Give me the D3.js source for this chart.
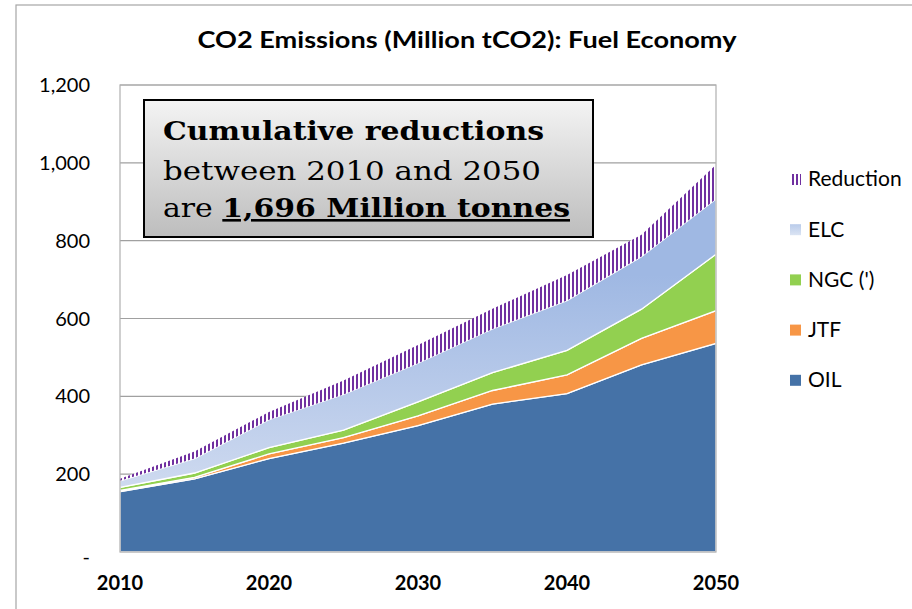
<!DOCTYPE html>
<html>
<head>
<meta charset="utf-8">
<script src="https://cdn.jsdelivr.net/npm/d3@7"></script>
<style>
  body { margin: 0; background: #fff; }
  svg { display: block; }
</style>
</head>
<body>
<svg></svg>
<script>
// values (Million tCO2, stacked)
const years = [2010, 2015, 2020, 2025, 2030, 2035, 2040, 2045, 2050];
const oil = [155, 188, 240, 280, 325, 380, 407, 481, 536];
const jtf = [3, 4, 12, 14, 25, 35, 48, 68, 84];
const ngc = [8, 11, 16, 19, 36, 46, 63, 75, 145];
const elc = [17, 37, 72, 92, 99, 112, 128, 135, 142];
const reduction = [5, 18, 20, 36, 47, 52, 66, 56, 88];

const seriesKeys = ["OIL", "JTF", "NGC", "ELC", "Reduction"];
const legendLabels = ["Reduction", "ELC", "NGC (')", "JTF", "OIL"];
const yTicks = [0, 200, 400, 600, 800, 1000, 1200];
const xTicks = [2010, 2020, 2030, 2040, 2050];

function drawChart() {
    let W = 912, H = 609;
    let margin = {top: 85, right: 196, bottom: 57, left: 120};
    let width = W - margin.left - margin.right;
    let height = H - margin.top - margin.bottom;

    let root = d3.select("svg")
        .attr("width", W)
        .attr("height", H);

    let defs = root.append("defs");

    // vertical purple hatch for the reduction wedge
    let pat = defs.append("pattern")
        .attr("id", "hatch")
        .attr("patternUnits", "userSpaceOnUse")
        .attr("width", 4)
        .attr("height", 8);
    pat.append("rect").attr("width", 4).attr("height", 8).attr("fill", "#fff");
    pat.append("rect").attr("width", 2).attr("height", 8).attr("fill", "#7030a0");

    let elcGrad = defs.append("linearGradient")
        .attr("id", "elcGrad")
        .attr("gradientUnits", "userSpaceOnUse")
        .attr("x1", 0).attr("x2", 0)
        .attr("y1", 190).attr("y2", 480);
    elcGrad.append("stop").attr("offset", "0%").attr("stop-color", "#9fb8e3");
    elcGrad.append("stop").attr("offset", "100%").attr("stop-color", "#dfe6f4");

    let legGrad = defs.append("linearGradient")
        .attr("id", "legGrad")
        .attr("x1", 0).attr("x2", 0).attr("y1", 0).attr("y2", 1);
    legGrad.append("stop").attr("offset", "0%").attr("stop-color", "#b9cbea");
    legGrad.append("stop").attr("offset", "100%").attr("stop-color", "#dbe4f3");

    let boxGrad = defs.append("linearGradient")
        .attr("id", "boxGrad")
        .attr("x1", 0).attr("x2", 0).attr("y1", 0).attr("y2", 1);
    boxGrad.append("stop").attr("offset", "0%").attr("stop-color", "#f4f4f4");
    boxGrad.append("stop").attr("offset", "100%").attr("stop-color", "#bdbdbd");

    // outer chart frame
    root.append("rect")
        .attr("x", 16)
        .attr("y", 5)
        .attr("width", W)
        .attr("height", H)
        .attr("fill", "none")
        .attr("stroke", "#a6a6a6")
        .attr("stroke-width", 1.2);

    root.append("text")
        .attr("x", 467)
        .attr("y", 48)
        .attr("text-anchor", "middle")
        .attr("font-family", "Lato, sans-serif")
        .attr("font-weight", "bold")
        .attr("font-size", "22px")
        .attr("textLength", 539)
        .attr("lengthAdjust", "spacingAndGlyphs")
        .attr("fill", "#000")
        .text("CO2 Emissions (Million tCO2): Fuel Economy");

    let svg = root.append("g")
        .attr("transform", "translate(" + margin.left + "," + margin.top + ")");

    let x = d3.scaleLinear().domain([2010, 2050]).range([0, width]);
    let y = d3.scaleLinear().domain([0, 1200]).range([height, 0]);

    // gridlines
    svg.append("g").selectAll("line")
        .data(yTicks)
        .join("line")
        .attr("x1", 0)
        .attr("x2", width)
        .attr("y1", d => y(d))
        .attr("y2", d => y(d))
        .attr("stroke", "#a0a0a0")
        .attr("stroke-width", 1.2);

    let table = years.map((yr, i) => ({
        year: yr, OIL: oil[i], JTF: jtf[i], NGC: ngc[i], ELC: elc[i], Reduction: reduction[i]
    }));
    let stacked = d3.stack().keys(seriesKeys)(table);

    let fills = {OIL: "#4572a7", JTF: "#f79646", NGC: "#92d050", ELC: "url(#elcGrad)", Reduction: "url(#hatch)"};

    let area = d3.area()
        .x(d => x(d.data.year))
        .y0(d => y(d[0]))
        .y1(d => y(d[1]));

    svg.append("g").selectAll("path")
        .data(stacked)
        .join("path")
        .attr("d", area)
        .attr("fill", d => fills[d.key])
        .attr("stroke", d => d.key == "Reduction" ? "none" : "#fff")
        .attr("stroke-width", 1.3);

    // plot frame
    svg.append("rect")
        .attr("x", 0)
        .attr("y", 0)
        .attr("width", width)
        .attr("height", height)
        .attr("fill", "none")
        .attr("stroke", "#b0b0b0")
        .attr("stroke-width", 1.2);

    // y labels
    svg.append("g").selectAll("text")
        .data(yTicks)
        .join("text")
        .attr("x", -30)
        .attr("y", d => y(d))
        .attr("dy", d => d == 0 ? "0.6em" : "0.35em")
        .attr("text-anchor", "end")
        .attr("font-family", "Lato, sans-serif")
        .attr("font-size", "20px")
        .attr("fill", "#000")
        .text(d => d == 0 ? "-" : d3.format(",")(d));

    // x labels
    svg.append("g").selectAll("text")
        .data(xTicks)
        .join("text")
        .attr("x", d => x(d))
        .attr("y", height + 38)
        .attr("text-anchor", "middle")
        .attr("font-family", "Lato, sans-serif")
        .attr("font-weight", "bold")
        .attr("font-size", "20px")
        .attr("fill", "#000")
        .text(d => d);

    // legend
    let legend = root.append("g")
        .attr("font-family", "Lato, sans-serif");
    let legFill = {"Reduction": "url(#hatch)", "ELC": "url(#legGrad)", "NGC (')": "#92d050", "JTF": "#f79646", "OIL": "#4572a7"};
    legendLabels.forEach((lab, i) => {
        let ly = 179 + i * 50.2;
        legend.append("rect")
            .attr("x", 790)
            .attr("y", ly - 5)
            .attr("width", 11)
            .attr("height", 11)
            .attr("fill", legFill[lab]);
        legend.append("text")
            .attr("x", 808)
            .attr("y", ly)
            .attr("dy", "0.35em")
            .attr("font-size", "21px")
            .attr("fill", "#000")
            .text(lab);
    });

    // annotation box
    let note = root.append("g");
    note.append("rect")
        .attr("x", 144)
        .attr("y", 100)
        .attr("width", 449)
        .attr("height", 137)
        .attr("fill", "url(#boxGrad)")
        .attr("stroke", "#000")
        .attr("stroke-width", 2);

    note.append("text")
        .attr("x", 163)
        .attr("y", 140)
        .attr("font-family", "DejaVu Serif, serif")
        .attr("font-weight", "bold")
        .attr("font-size", "26px")
        .attr("textLength", 381)
        .attr("lengthAdjust", "spacingAndGlyphs")
        .text("Cumulative reductions");

    note.append("text")
        .attr("x", 163)
        .attr("y", 180)
        .attr("font-family", "DejaVu Serif, serif")
        .attr("font-size", "26px")
        .attr("textLength", 378)
        .attr("lengthAdjust", "spacingAndGlyphs")
        .text("between 2010 and 2050");

    let line3 = note.append("text")
        .attr("x", 163)
        .attr("y", 217)
        .attr("font-family", "DejaVu Serif, serif")
        .attr("font-size", "26px")
        .attr("textLength", 407)
        .attr("lengthAdjust", "spacingAndGlyphs");
    line3.append("tspan").text("are ");
    line3.append("tspan")
        .attr("font-weight", "bold")
        .attr("text-decoration", "underline")
        .text("1,696 Million tonnes");
}
drawChart();
</script>
</body>
</html>
